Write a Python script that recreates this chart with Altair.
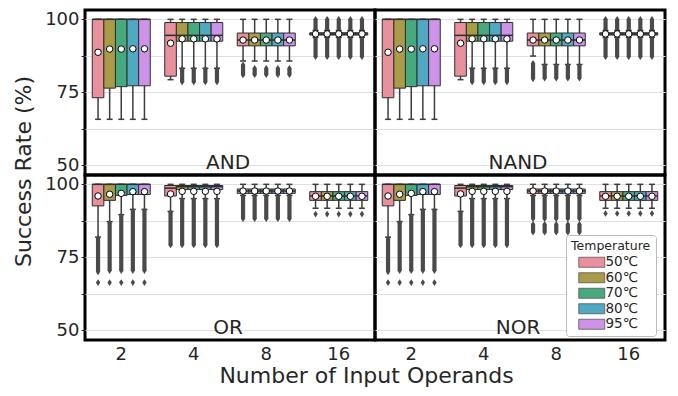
import altair as alt
import pandas as pd

gates = ["AND", "NAND", "OR", "NOR"]
operands = [2, 4, 8, 16]
temps = ["50℃", "60℃", "70℃", "80℃", "95℃"]
temp_colors = ["#e8909b", "#aa9b48", "#47aa7e", "#4ea9c1", "#cc93e8"]

# 20 values per list: operands 2,4,8,16 x temps 50..95
AND_q1 = [73.1, 76.4, 76.9, 77.2, 77.2, 80.5, 92.5, 92.5, 92.5, 92.5, 90.9, 90.9, 90.9, 90.9, 90.9, 94.6, 94.6, 94.6, 94.6, 94.6]
AND_med = [100, 100, 100, 100, 100, 94.5, 94.5, 94.5, 94.5, 94.5, 92.9, 92.9, 92.9, 92.9, 92.9, 95.0, 95.0, 95.0, 95.0, 95.0]
AND_q3 = [100, 100, 100, 100, 100, 98.9, 98.9, 98.9, 98.9, 98.9, 95.3, 95.3, 95.3, 95.3, 95.3, 95.4, 95.4, 95.4, 95.4, 95.4]
AND_wlo = [65.7, 65.7, 65.7, 65.7, 65.7, 79.3, 83.2, 83.2, 83.2, 83.2, 85.7, 85.7, 85.7, 85.7, 85.7, 93.8, 93.8, 93.8, 93.8, 93.8]
AND_whi = [100, 100, 100, 100, 100, 100, 100, 100, 100, 100, 100, 100, 100, 100, 100, 96.2, 96.2, 96.2, 96.2, 96.2]
AND_mean = [88.7, 89.8, 89.8, 89.9, 89.9, 91.8, 93.3, 93.3, 93.3, 93.3, 92.9, 92.9, 92.9, 92.9, 92.9, 95.0, 95.0, 95.0, 95.0, 95.0]

NAND_q1 = [73.1, 76.4, 76.9, 77.2, 77.2, 80.5, 92.5, 92.5, 92.5, 92.5, 90.9, 90.9, 90.9, 90.9, 90.9, 94.6, 94.6, 94.6, 94.6, 94.6]
NAND_med = [100, 100, 100, 100, 100, 94.5, 94.5, 94.5, 94.5, 94.5, 92.9, 92.9, 92.9, 92.9, 92.9, 95.0, 95.0, 95.0, 95.0, 95.0]
NAND_q3 = [100, 100, 100, 100, 100, 98.9, 98.9, 98.9, 98.9, 98.9, 95.3, 95.3, 95.3, 95.3, 95.3, 95.4, 95.4, 95.4, 95.4, 95.4]
NAND_wlo = [65.7, 65.7, 65.7, 65.7, 65.7, 79.3, 83.2, 83.2, 83.2, 83.2, 87.4, 84.5, 84.5, 84.5, 84.5, 93.8, 93.8, 93.8, 93.8, 93.8]
NAND_whi = [100, 100, 100, 100, 100, 100, 100, 100, 100, 100, 100, 100, 100, 100, 100, 96.2, 96.2, 96.2, 96.2, 96.2]
NAND_mean = [88.7, 89.8, 89.8, 89.9, 89.9, 91.8, 93.3, 93.3, 93.3, 93.3, 92.9, 92.9, 92.9, 92.9, 92.9, 95.0, 95.0, 95.0, 95.0, 95.0]

OR_q1 = [92.6, 94.5, 96.2, 96.5, 96.5, 96.0, 98.2, 98.2, 98.2, 98.2, 96.9, 96.9, 96.9, 96.9, 96.9, 94.5, 94.5, 94.5, 94.5, 94.5]
OR_med = [100, 100, 100, 100, 100, 98.7, 99.2, 99.2, 99.2, 99.2, 97.7, 97.7, 97.7, 97.7, 97.7, 96.0, 96.0, 96.0, 96.0, 96.0]
OR_q3 = [100, 100, 100, 100, 100, 99.6, 99.6, 99.6, 99.6, 99.6, 98.4, 98.4, 98.4, 98.4, 98.4, 97.5, 97.5, 97.5, 97.5, 97.5]
OR_wlo = [81.9, 87.2, 89.6, 91.4, 91.4, 90.7, 95.1, 95.1, 95.1, 95.1, 96.2, 96.2, 96.2, 96.2, 96.2, 91.8, 91.8, 91.8, 91.8, 91.8]
OR_whi = [100, 100, 100, 100, 100, 100, 100, 100, 100, 100, 100, 100, 100, 100, 100, 100, 100, 100, 100, 100]
OR_mean = [96.0, 96.6, 96.9, 97.5, 97.5, 96.7, 97.6, 97.6, 97.6, 97.6, 97.7, 97.7, 97.7, 97.7, 97.7, 95.9, 95.9, 95.9, 95.9, 95.9]

NOR_q1 = [92.6, 94.5, 96.2, 96.5, 96.5, 96.0, 98.2, 98.2, 98.2, 98.2, 96.9, 96.9, 96.9, 96.9, 96.9, 94.5, 94.5, 94.5, 94.5, 94.5]
NOR_med = [100, 100, 100, 100, 100, 98.7, 99.2, 99.2, 99.2, 99.2, 97.7, 97.7, 97.7, 97.7, 97.7, 96.0, 96.0, 96.0, 96.0, 96.0]
NOR_q3 = [100, 100, 100, 100, 100, 99.6, 99.6, 99.6, 99.6, 99.6, 98.4, 98.4, 98.4, 98.4, 98.4, 97.5, 97.5, 97.5, 97.5, 97.5]
NOR_wlo = [81.9, 87.2, 89.6, 91.4, 91.4, 90.7, 95.1, 95.1, 95.1, 95.1, 96.2, 96.2, 96.2, 96.2, 96.2, 91.8, 91.8, 91.8, 91.8, 91.8]
NOR_whi = [100, 100, 100, 100, 100, 100, 100, 100, 100, 100, 100, 100, 100, 100, 100, 100, 100, 100, 100, 100]
NOR_mean = [96.0, 96.6, 96.9, 97.5, 97.5, 96.7, 97.6, 97.6, 97.6, 97.6, 97.7, 97.7, 97.7, 97.7, 97.7, 95.9, 95.9, 95.9, 95.9, 95.9]

# dense outlier runs: (operands, temperature, low, high)
AND_runs = [(4, "60℃", 78.5, 83.0), (4, "70℃", 78.5, 83.0), (4, "80℃", 78.5, 83.0), (4, "95℃", 78.5, 83.0),
            (8, "50℃", 80.9, 84.4), (8, "60℃", 81.0, 83.2), (8, "70℃", 81.0, 83.2), (8, "80℃", 81.0, 83.2), (8, "95℃", 81.0, 83.2),
            (16, "50℃", 96.6, 100), (16, "60℃", 96.6, 100), (16, "70℃", 96.6, 100), (16, "80℃", 96.6, 100), (16, "95℃", 96.6, 100),
            (16, "50℃", 87.2, 93.4), (16, "60℃", 87.2, 93.4), (16, "70℃", 87.2, 93.4), (16, "80℃", 87.2, 93.4), (16, "95℃", 87.2, 93.4)]
NAND_runs = [(4, "60℃", 78.5, 83.0), (4, "70℃", 78.5, 83.0), (4, "80℃", 78.5, 83.0), (4, "95℃", 78.5, 83.0),
             (8, "50℃", 79.6, 84.9), (8, "60℃", 79.8, 84.1), (8, "70℃", 79.8, 84.1), (8, "80℃", 79.8, 84.1), (8, "95℃", 79.8, 84.1),
             (16, "50℃", 96.6, 100), (16, "60℃", 96.6, 100), (16, "70℃", 96.6, 100), (16, "80℃", 96.6, 100), (16, "95℃", 96.6, 100),
             (16, "50℃", 87.2, 93.4), (16, "60℃", 87.2, 93.4), (16, "70℃", 87.2, 93.4), (16, "80℃", 87.2, 93.4), (16, "95℃", 87.2, 93.4)]
OR_runs = [(2, "50℃", 70.0, 81.5), (2, "60℃", 70.4, 86.8), (2, "70℃", 70.4, 89.2), (2, "80℃", 70.4, 91.0), (2, "95℃", 70.4, 91.0),
           (4, "50℃", 79.2, 90.3), (4, "60℃", 79.2, 94.7), (4, "70℃", 79.2, 94.7), (4, "80℃", 79.2, 94.7), (4, "95℃", 79.2, 94.7),
           (8, "50℃", 88.2, 95.9), (8, "60℃", 88.2, 95.9), (8, "70℃", 88.2, 95.9), (8, "80℃", 88.2, 95.9), (8, "95℃", 88.2, 95.9)]
NOR_runs = [(2, "50℃", 70.0, 81.5), (2, "60℃", 70.4, 86.8), (2, "70℃", 70.4, 89.2), (2, "80℃", 70.4, 91.0), (2, "95℃", 70.4, 91.0),
            (4, "50℃", 79.2, 90.3), (4, "60℃", 79.2, 94.7), (4, "70℃", 79.2, 94.7), (4, "80℃", 79.2, 94.7), (4, "95℃", 79.2, 94.7),
            (8, "50℃", 88.2, 95.9), (8, "60℃", 88.2, 95.9), (8, "70℃", 88.2, 95.9), (8, "80℃", 88.2, 95.9), (8, "95℃", 88.2, 95.9),
            (8, "50℃", 83.6, 86.3), (8, "60℃", 83.6, 86.3), (8, "70℃", 83.6, 86.3), (8, "80℃", 83.6, 86.3), (8, "95℃", 83.6, 86.3)]

# isolated outliers: (operands, temperature, value)
OR_single = [(2, "50℃", 66.3), (2, "60℃", 66.3), (2, "70℃", 66.3), (2, "80℃", 66.3), (2, "95℃", 66.3),
             (16, "50℃", 89.8), (16, "60℃", 89.8), (16, "70℃", 89.8), (16, "80℃", 89.8), (16, "95℃", 89.8)]
NOR_single = [(2, "50℃", 66.3), (2, "60℃", 66.3), (2, "70℃", 66.3), (2, "80℃", 66.3), (2, "95℃", 66.3),
              (16, "50℃", 90.0), (16, "60℃", 90.0), (16, "70℃", 90.0), (16, "80℃", 90.0), (16, "95℃", 90.0)]

stat_sets = {
    "AND": (AND_q1, AND_med, AND_q3, AND_wlo, AND_whi, AND_mean),
    "NAND": (NAND_q1, NAND_med, NAND_q3, NAND_wlo, NAND_whi, NAND_mean),
    "OR": (OR_q1, OR_med, OR_q3, OR_wlo, OR_whi, OR_mean),
    "NOR": (NOR_q1, NOR_med, NOR_q3, NOR_wlo, NOR_whi, NOR_mean),
}
run_sets = {"AND": AND_runs, "NAND": NAND_runs, "OR": OR_runs, "NOR": NOR_runs}
single_sets = {"AND": [], "NAND": [], "OR": OR_single, "NOR": NOR_single}

TXT = "#262626"
EDGE = "#2e2e2e"
WHISK = "#3d3d3d"
OUTC = "#4a4a4a"
FONT = "DejaVu Sans"
PW = 290
PH = 165
DIAMOND = "M0,-1L0.65,0L0,1L-0.65,0Z"

yscale = alt.Scale(domain=[46.6, 103.2], nice=False, zero=False)
xscale = alt.Scale(type="band", domain=operands, paddingInner=0.2, paddingOuter=0.1)
xoff = alt.XOffset("temp:N", scale=alt.Scale(domain=temps, paddingInner=0, paddingOuter=0))
yvals = [50, 62.5, 75, 87.5, 100]

legend = alt.Legend(title="Temperature", orient="none", legendX=481, legendY=225,
                    symbolType="M-2.6,-1H2.6V1H-2.6Z", symbolSize=100, symbolStrokeColor="#555",
                    symbolStrokeWidth=0.8, symbolOffset=14, labelOffset=7,
                    fillColor="white", strokeColor="#bbbbbb", cornerRadius=3, padding=5,
                    labelFontSize=13.5, labelFont=FONT, labelColor=TXT, titleFontSize=12.5,
                    titleFont=FONT, titleFontWeight="normal", titleColor=TXT, rowPadding=0.5,
                    titlePadding=3, symbolOpacity=1)


def y_axis(left, with_title):
    if left:
        kw = dict(values=yvals, labelExpr="datum.value % 25 == 0 ? datum.label : ''",
                  grid=True, gridColor="#e0e0e0", gridWidth=1, tickSize=4, tickColor=TXT,
                  tickWidth=1, labelFontSize=18, labelColor=TXT, domain=False,
                  labelPadding=2, labelFont=FONT)
        if with_title:
            kw.update(titleX=-62, titleY=PH - 4, titleAngle=270, titleAlign="center",
                      titleBaseline="middle", titleFontSize=22, titleFont=FONT,
                      titleFontWeight="normal", titleColor=TXT)
        return alt.Axis(**kw)
    return alt.Axis(values=yvals, labels=False, ticks=False, grid=True, gridColor="#e0e0e0",
                    gridWidth=1, domain=False)


def x_axis(bottom, with_title):
    if not bottom:
        return None
    kw = dict(labelAngle=0, ticks=False, domain=False, grid=False, labelFontSize=18,
              labelPadding=5, labelColor=TXT, labelFont=FONT)
    if with_title:
        kw.update(titleX=PW - 9, titleY=42, titleAlign="center", titleBaseline="alphabetic",
                  titleFontSize=22, titleFont=FONT, titleFontWeight="normal", titleColor=TXT)
    return alt.Axis(**kw)


def panel(gate, left, bottom, ytitle=None, xtitle=None):
    q1, med, q3, wlo, whi, mean = stat_sets[gate]
    sdf = pd.DataFrame({
        "op": [operands[i // 5] for i in range(20)],
        "temp": [temps[i % 5] for i in range(20)],
        "q1": q1, "med": med, "q3": q3, "wlo": wlo, "whi": whi, "mean": mean,
    })
    yax = y_axis(left, ytitle is not None)
    xax = x_axis(bottom, xtitle is not None)
    xenc = alt.X("op:O", scale=xscale, axis=xax, title=xtitle)

    def Y(f):
        return alt.Y(f"{f}:Q", scale=yscale, axis=yax, title=ytitle)

    base = alt.Chart(sdf).encode(x=xenc, xOffset=xoff)
    whisk = base.mark_rule(color=WHISK, strokeWidth=1.5).encode(y=Y("wlo"), y2="whi")
    cap_lo = base.mark_tick(orient="horizontal", size=6, thickness=1.5, color=WHISK, opacity=1).encode(y=Y("wlo"))
    cap_hi = base.mark_tick(orient="horizontal", size=6, thickness=1.5, color=WHISK, opacity=1).encode(y=Y("whi"))
    box = base.mark_bar(stroke=EDGE, strokeWidth=1, opacity=1).encode(
        y=Y("q1"), y2="q3",
        color=alt.Color("temp:N", scale=alt.Scale(domain=temps, range=temp_colors), legend=legend))
    medl = base.mark_tick(orient="horizontal", size=11.6, thickness=1.5, color=EDGE, opacity=1).encode(y=Y("med"))

    runs = run_sets[gate]
    rdf = pd.DataFrame({"op": [r[0] for r in runs], "temp": [r[1] for r in runs],
                        "lo": [r[2] for r in runs], "hi": [r[3] for r in runs]})
    rb = alt.Chart(rdf).encode(x=xenc, xOffset=xoff)
    run_rule = rb.mark_rule(color=OUTC, strokeWidth=4.2).encode(y=Y("lo"), y2="hi")
    run_lo = rb.mark_point(shape=DIAMOND, filled=True, color=OUTC, size=45, opacity=1).encode(y=Y("lo"))
    run_hi = rb.mark_point(shape=DIAMOND, filled=True, color=OUTC, size=45, opacity=1).encode(y=Y("hi"))

    layers = [whisk, cap_lo, cap_hi, box, medl, run_rule, run_lo, run_hi]
    singles = single_sets[gate]
    if singles:
        odf = pd.DataFrame({"op": [s[0] for s in singles], "temp": [s[1] for s in singles],
                            "val": [s[2] for s in singles]})
        layers.append(alt.Chart(odf).mark_point(shape=DIAMOND, filled=True, color=OUTC, size=45, opacity=1)
                      .encode(x=xenc, xOffset=xoff, y=Y("val")))

    meanp = base.mark_point(shape="circle", filled=True, fill="white", stroke="black",
                            strokeWidth=1, size=42, opacity=1).encode(y=Y("mean"))
    layers.append(meanp)

    label = alt.Chart(pd.DataFrame({"g": [gate]})).mark_text(
        fontSize=20, font=FONT, color=TXT, baseline="alphabetic", align="center").encode(
        text="g:N", x=alt.value(PW / 2 - 2), y=alt.value(PH - 6))
    layers.append(label)

    return alt.layer(*layers).properties(
        width=PW, height=PH, view=alt.ViewBackground(stroke="black", strokeWidth=3))


chart = alt.concat(
    panel("AND", True, False, ytitle="Success Rate (%)"),
    panel("NAND", False, False),
    panel("OR", True, True, xtitle="Number of Input Operands"),
    panel("NOR", False, True),
    columns=2, spacing=0, bounds="flush",
    padding={"left": 2, "top": 0, "right": 0, "bottom": 0},
).configure(font=FONT).configure_view(stroke="black", strokeWidth=3)

chart.save("out.html", embed_options={"renderer": "svg", "actions": False})
